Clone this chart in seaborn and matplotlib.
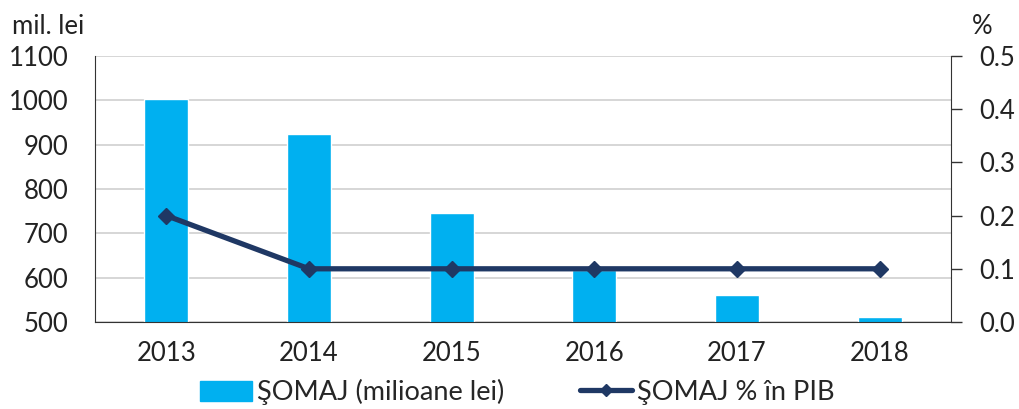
import pandas as pd
import matplotlib.pyplot as plt
import seaborn as sns
from matplotlib.patches import Patch
from matplotlib.lines import Line2D

sns.set_style("white")
plt.rcParams['font.family'] = ['Lato', 'DejaVu Sans']

# Data
years = ['2013', '2014', '2015', '2016', '2017', '2018']
somaj_mil = [1002, 924, 746, 618, 562, 512]
somaj_pib = [0.2, 0.1, 0.1, 0.1, 0.1, 0.1]

bar_color = '#00B0F0'
line_color = '#1F3864'
fs = 18.5

df = pd.DataFrame({'An': years, 'Mil': somaj_mil, 'Pib': somaj_pib})

fig = plt.figure(figsize=(10.19, 4.09), dpi=100)
ax = fig.add_axes([95 / 1019, 1 - 322 / 409, 856 / 1019, 266 / 409])

sns.barplot(data=df, x='An', y='Mil', color=bar_color, width=0.31,
            saturation=1, ax=ax, zorder=2)
ax.set_ylim(500, 1100)
ax.set_yticks(range(500, 1101, 100))
ax.yaxis.grid(True, color='#d0d0d0', linewidth=1.2, zorder=0)
ax.set_axisbelow(True)
ax.set_xlabel('')
ax.set_ylabel('')
ax.tick_params(axis='both', labelsize=fs, length=0, colors='#222222')
ax.tick_params(axis='x', pad=14)
ax.tick_params(axis='y', pad=19)
for side in ['top', 'right']:
    ax.spines[side].set_visible(False)
ax.spines['left'].set_color('#333333')
ax.spines['bottom'].set_color('#333333')

ax2 = ax.twinx()
ax2.plot(range(len(years)), df['Pib'], color=line_color, linewidth=3.8,
         marker='D', markersize=8, zorder=5)
ax2.set_ylim(0, 0.5)
ax2.set_yticks([0.0, 0.1, 0.2, 0.3, 0.4, 0.5])
ax2.set_yticklabels(['0.0', '0.1', '0.2', '0.3', '0.4', '0.5'])
ax2.tick_params(axis='y', labelsize=fs, length=8, width=1, direction='out',
                colors='#333333', labelcolor='#222222', pad=12)
for side in ['top', 'left', 'bottom']:
    ax2.spines[side].set_visible(False)
ax2.spines['right'].set_color('#333333')
ax2.set_ylabel('')
ax.set_xlim(-0.5, len(years) - 0.5)

fig.text(12 / 1019, 1 - 26 / 409, 'mil. lei', fontsize=fs, va='center',
         color='#222222')
fig.text(972 / 1019, 1 - 26 / 409, '%', fontsize=fs, va='center',
         color='#222222')

handles = [Patch(facecolor=bar_color, edgecolor=bar_color),
           Line2D([0], [0], color=line_color, linewidth=3.8, marker='D',
                  markersize=6)]
labels = ['ŞOMAJ (milioane lei)', 'ŞOMAJ % în PIB']
fig.legend(handles, labels, loc='center', bbox_to_anchor=(0.508, 1 - 392 / 409),
           ncol=2, frameon=False, fontsize=19.5, columnspacing=2.8,
           handlelength=1.9, handleheight=0.75, handletextpad=0.2,
           borderaxespad=0, borderpad=0)

plt.savefig('out.png', dpi=100)
